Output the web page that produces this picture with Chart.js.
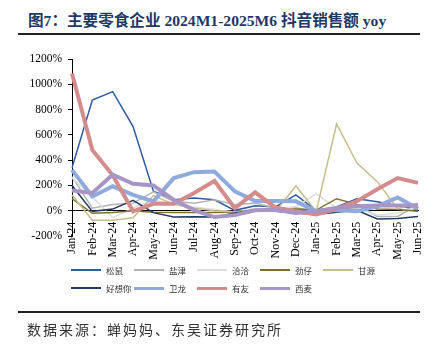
<!DOCTYPE html>
<html><head><meta charset="utf-8">
<script src="https://cdn.jsdelivr.net/npm/chart.js@4/dist/chart.umd.min.js"></script>
<style>
html,body{margin:0;padding:0;background:#fff;}
#wrap{position:relative;width:437px;height:356px;overflow:hidden;}
#title{position:absolute;left:28px;top:8px;font-family:"Liberation Serif","Noto Sans CJK SC",serif;font-weight:bold;font-size:15.6px;color:#1F3864;white-space:nowrap;}
.rule{position:absolute;left:18px;width:402px;height:2px;background:#222;}
#src{position:absolute;left:27px;top:319px;font-family:"Noto Sans CJK SC",sans-serif;font-size:14px;letter-spacing:2px;color:#333;white-space:nowrap;}
#cv{position:absolute;left:0;top:0;}
#legend{position:absolute;left:71px;top:261px;font-family:"Noto Sans CJK SC",sans-serif;font-size:8.5px;color:#333;}
.row{height:18px;position:relative;}
.item{position:absolute;top:0;height:18px;display:flex;align-items:center;white-space:nowrap;}
.ln{display:inline-block;width:30px;margin-right:5px;}
</style></head>
<body>
<div id="wrap">
<div id="title">图7：主要零食企业 2024M1-2025M6 抖音销售额 yoy</div>
<div class="rule" style="top:33px"></div>
<canvas id="cv" width="437" height="356"></canvas>
<div id="legend"></div>
<div class="rule" style="top:311px"></div>
<div id="src">数据来源：蝉妈妈、东吴证券研究所</div>
</div>
<script>
const categories = ['Jan-24','Feb-24','Mar-24','Apr-24','May-24','Jun-24','Jul-24','Aug-24','Sep-24','Oct-24','Nov-24','Dec-24','Jan-25','Feb-25','Mar-25','Apr-25','May-25','Jun-25'];
const songshu  = [340, 875, 942, 665, 155, 87, 100, 87, 3, 40, 30, 126, 3, 29, 95, 70, 40, 10];
const yanjin   = [270, 20, 50, 60, 150, 75, 60, 87, 47, 60, 20, 24, -5, 20, 47, -45, -45, 47];
const qiaqia   = [260, 110, -55, 20, 85, 50, 30, 10, -10, 20, 10, 34, 133, 20, 20, -35, -18, 34];
const jinzai   = [95, -20, -15, 0, -12, -15, -15, -15, -10, 5, 5, 13, 5, 95, 50, 13, 10, -5];
const ganyuan  = [125, -75, -75, -55, 120, 50, 20, 0, -10, 10, -5, 195, -5, 686, 377, 230, 15, 60];
const haoxiangni = [200, -5, 13, 82, -15, -50, -48, -50, -18, 8, -5, -18, -30, -13, 3, -65, -62, -45];
const weilong  = [323, 113, 193, 126, 74, 258, 305, 310, 153, 76, 76, 74, -5, 5, -5, 35, 105, 15];
const youyou   = [1085, 480, 280, -5, 55, 55, 140, 235, 20, 145, 25, -5, -30, 15, 75, 170, 258, 220];
const ximai    = [160, 140, 285, 213, 200, 85, 5, -50, -35, 3, 8, -18, -5, 22, 35, 42, 42, 42];
const yTicks   = [-200, 0, 200, 400, 600, 800, 1000, 1200];

const seriesNames = ['松鼠','盐津','洽洽','劲仔','甘源','好想你','卫龙','有友','西麦'];
const seriesData = [songshu, yanjin, qiaqia, jinzai, ganyuan, haoxiangni, weilong, youyou, ximai];
const seriesColors = ['#2E5C9E','#B3B3B3','#DEDEDE','#7F6E2E','#C9BC8C','#1F3A5F','#8FAADC','#D48B8B','#A895C6'];
const seriesWidths = [1.5,1.5,1.5,1.5,1.5,1.5,4,4,4];

const datasets = seriesNames.map((n,i)=>({
  label:n, data:seriesData[i], borderColor:seriesColors[i], backgroundColor:seriesColors[i],
  borderWidth:seriesWidths[i], pointRadius:0, tension:0, fill:false, order:seriesNames.length-i
}));

new Chart(document.getElementById('cv'), {
  type:'line',
  data:{labels:categories, datasets},
  options:{
    responsive:false, animation:false,
    layout:{padding:{top:59,bottom:120,left:0,right:19}},
    plugins:{legend:{display:false}, tooltip:{enabled:false}},
    scales:{
      x:{
        position:{y:0},
        afterFit:(s)=>{s.height=0;},
        grid:{display:false},
        border:{display:true,color:'#000',width:1},
        ticks:{autoSkip:false,minRotation:90,maxRotation:90,padding:3,color:'#000',
          font:{family:'"Liberation Serif", serif',size:12}}
      },
      y:{
        min:-200,max:1200,
        afterFit:(s)=>{s.width=72;},
        afterBuildTicks:(s)=>{s.ticks=yTicks.map(v=>({value:v}));},
        grid:{drawOnChartArea:false,drawTicks:true,tickLength:4,color:'#000'},
        border:{display:true,color:'#000',width:1},
        ticks:{padding:6,color:'#000',callback:(v)=>v+'%',
          font:{family:'"Liberation Serif", serif',size:11.5}}
      }
    }
  }
});

// legend (HTML), 5 columns
const lg = document.getElementById('legend');
let row;
seriesNames.forEach((n,i)=>{
  if(i%5===0){row=document.createElement('div');row.className='row';lg.appendChild(row);}
  const it=document.createElement('div');it.className='item';it.style.left=((i%5)*63)+'px';
  const ln=document.createElement('span');ln.className='ln';
  ln.style.height=(seriesWidths[i]>2?3:2)+'px';ln.style.background=seriesColors[i];
  it.appendChild(ln);
  const t=document.createElement('span');t.textContent=n;it.appendChild(t);
  row.appendChild(it);
});
</script>
</body></html>
